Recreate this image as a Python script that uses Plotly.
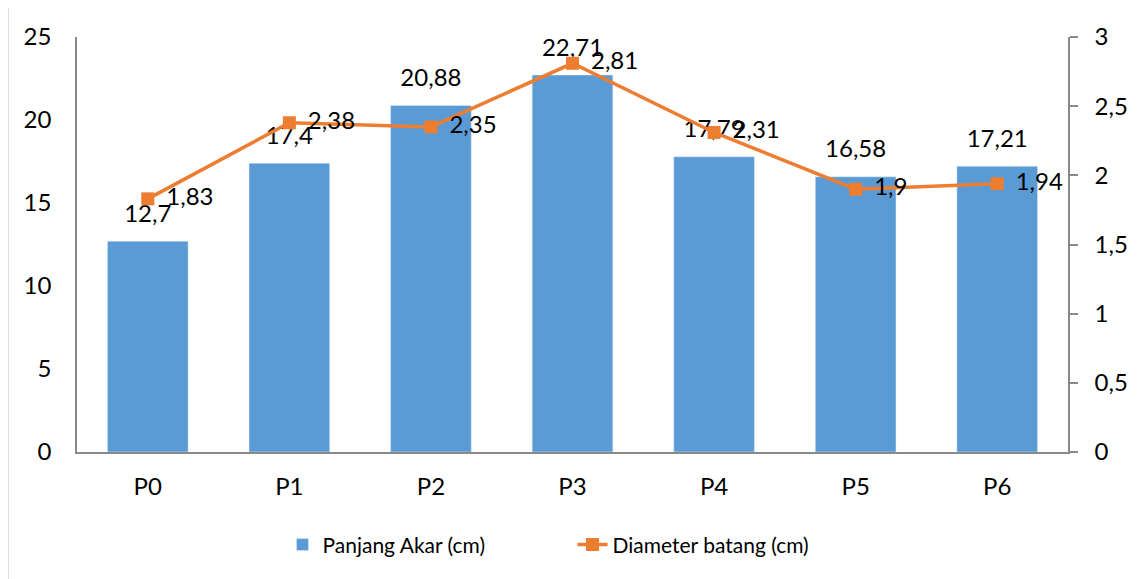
import plotly.graph_objects as go

categories = ["P0", "P1", "P2", "P3", "P4", "P5", "P6"]
panjang_akar = [12.7, 17.4, 20.88, 22.71, 17.79, 16.58, 17.21]
diameter_batang = [1.83, 2.38, 2.35, 2.81, 2.31, 1.9, 1.94]
left_ticks = [0, 5, 10, 15, 20, 25]
right_ticks = [0, 0.5, 1, 1.5, 2, 2.5, 3]

def fmt(v):
    return ("%g" % v).replace(".", ",")

FONT = "Lato"
FS = 24
axis_color = "#898989"

fig = go.Figure()
fig.add_trace(go.Bar(
    x=categories, y=panjang_akar, name="Panjang Akar (cm)",
    marker=dict(color="#5B9BD5"),
))
# bar value labels (invisible markers give the gap above the bars)
fig.add_trace(go.Scatter(
    x=categories, y=panjang_akar, mode="markers+text", showlegend=False,
    marker=dict(size=20, opacity=0), hoverinfo="skip",
    text=[fmt(v) for v in panjang_akar], textposition="top center",
    textfont=dict(family=FONT, size=FS, color="#000000"),
    cliponaxis=False,
))
fig.add_trace(go.Scatter(
    x=categories, y=diameter_batang, name="Diameter batang (cm)",
    yaxis="y2", mode="lines+markers",
    line=dict(color="#ED7D31", width=3.5),
    marker=dict(symbol="square", size=13, color="#ED7D31"),
    cliponaxis=False,
))
# line value labels
fig.add_trace(go.Scatter(
    x=categories, y=diameter_batang, yaxis="y2", mode="markers+text", showlegend=False,
    marker=dict(size=28, opacity=0), hoverinfo="skip",
    text=[fmt(v) for v in diameter_batang], textposition="middle right",
    textfont=dict(family=FONT, size=FS, color="#000000"),
    cliponaxis=False,
))

fig.update_layout(
    width=1133, height=571,
    margin=dict(l=69, r=73, t=29, b=127),
    paper_bgcolor="white", plot_bgcolor="white",
    separators=",.",
    font=dict(family=FONT, size=FS, color="#000000"),
    bargap=0.43,
    showlegend=True,
    legend=dict(orientation="h", x=0.5, xanchor="center", y=-0.224, yanchor="middle",
                entrywidth=245, entrywidthmode="pixels",
                font=dict(family=FONT, size=21, color="#000000")),
    xaxis=dict(showline=True, linecolor=axis_color, linewidth=1.5, ticks="",
               ticklabelstandoff=12, showgrid=False, zeroline=False),
    yaxis=dict(range=[0, 25], tickvals=left_ticks, showline=True, linecolor=axis_color,
               linewidth=1.5, ticks="", showgrid=False, zeroline=False,
               ticklabelstandoff=19),
    yaxis2=dict(range=[0, 3], tickvals=right_ticks, overlaying="y", side="right",
                showline=True, linecolor=axis_color, linewidth=1.5, ticks="outside",
                ticklen=8, tickcolor=axis_color, tickwidth=1.5,
                showgrid=False, zeroline=False, ticklabelstandoff=12),
    shapes=[dict(type="rect", xref="paper", yref="paper",
                 x0=-0.0696, x1=1.0727, y0=-0.33, y1=1.0723,
                 line=dict(color="#D9D9D9", width=1.5), fillcolor="rgba(0,0,0,0)", layer="below")],
)

fig.write_html("out.html")
